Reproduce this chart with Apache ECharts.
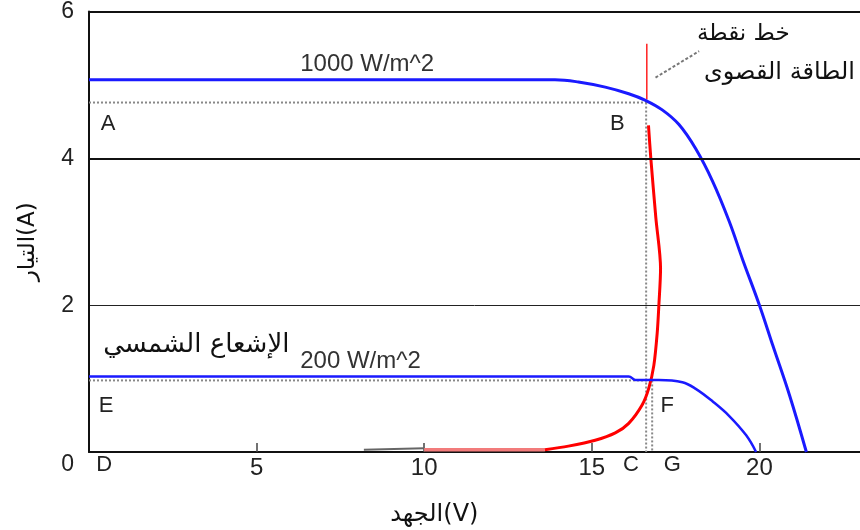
<!DOCTYPE html>
<html><head><meta charset="utf-8">
<script src="https://cdn.jsdelivr.net/npm/echarts@6/dist/echarts.min.js"></script>
<style>html,body{margin:0;padding:0;background:#fff}#c{width:860px;height:530px}</style>
</head><body><div id="c"></div>
<script>
// ---- data ----
const voltage1000 = [0, 13.9, 14.6, 15.4, 16.1, 16.6, 17.1, 17.6, 18.1, 18.6, 19.1, 19.5, 20.0, 20.4, 20.9, 21.4];
const current1000 = [5.07, 5.07, 5.04, 4.97, 4.88, 4.79, 4.66, 4.46, 4.13, 3.69, 3.14, 2.62, 2.0, 1.45, 0.77, 0.0];
const voltage200 = [0, 16.1, 16.3, 17.0, 17.7, 18.1, 18.6, 19.1, 19.6, 19.9];
const current200 = [1.03, 1.03, 0.98, 0.98, 0.95, 0.86, 0.69, 0.49, 0.23, 0];
const mppVoltage = [13.6, 14.3, 15.1, 15.7, 16.1, 16.5, 16.7, 16.85, 16.95, 17.0, 17.05, 16.91, 16.76, 16.69];
const mppCurrent = [0.03, 0.08, 0.16, 0.26, 0.39, 0.64, 0.87, 1.18, 1.62, 2.0, 2.5, 3.19, 4.0, 4.45];
const mppTopVoltage = [16.64, 16.64];
const mppTopCurrent = [4.8, 5.56];
const mppFaintVoltage = [10, 13.6];
const mppFaintCurrent = [0.03, 0.03];
const grayVoltage = [8.2, 10];
const grayCurrent = [0.03, 0.05];
const guideABv = [0, 16.64], guideABi = [4.76, 4.76];
const guideBCv = [16.62, 16.62], guideBCi = [4.76, 0];
const guideEFv = [0, 16.8], guideEFi = [0.975, 0.975];
const guideFGv = [16.8, 16.8], guideFGi = [0.975, 0];
const xTicks = [0, 5, 10, 15, 20];
const yTicks = [0, 2, 4, 6];
const labelHigh = '1000 W/m^2';
const labelLow = '200 W/m^2';
const labelIrr = 'الإشعاع الشمسي';
const labelMpp1 = 'خط نقطة';
const labelMpp2 = 'الطاقة القصوى';
const yName = 'التيار(A)';
const xName = 'الجهد(V)';

const pairs = (a, b) => a.map((v, i) => [v, b[i]]);
const chart = echarts.init(document.getElementById('c'));
const latin = 'Liberation Sans, Arial, sans-serif';
const arab = 'DejaVu Sans, sans-serif';

function line(data, color, width, extra) {
  return Object.assign({ type: 'line', data: data, showSymbol: false, symbol: 'none', silent: true,
    lineStyle: { color: color, width: width }, z: 3 }, extra || {});
}
function dotted(data) {
  return { type: 'line', data: data, showSymbol: false, symbol: 'none', silent: true,
    lineStyle: { color: '#888', width: 2, type: [2, 2] }, z: 2 };
}

chart.setOption({
  animation: false,
  grid: { left: 89, right: -1, top: 9, bottom: 78 },
  xAxis: {
    type: 'value', min: 0, max: 23, interval: 5,
    axisLine: { lineStyle: { color: '#111', width: 2 } },
    axisTick: { inside: true, length: 9, customValues: xTicks.slice(1), lineStyle: { color: '#444', width: 1.5 } },
    splitLine: { show: false },
    axisLabel: { customValues: xTicks.slice(1), formatter: v => String(v), fontSize: 24, color: '#222', margin: 4, fontFamily: latin }
  },
  yAxis: {
    type: 'value', min: 0, max: 6, interval: 2,
    axisLine: { show: true, lineStyle: { color: '#111', width: 2 } },
    axisTick: { show: false },
    splitLine: { show: true, lineStyle: { color: '#222', width: 1 } },
    axisLabel: {
      formatter: v => (v === 0 ? '{z|0}' : (yTicks.indexOf(v) >= 0 ? String(v) : '')),
      fontSize: 23, color: '#222', margin: 15, fontFamily: latin,
      rich: { z: { fontSize: 23, color: '#222', fontFamily: latin, padding: [26, 0, 0, 0] } }
    },
    name: yName, nameLocation: 'middle', nameRotate: 90, nameGap: 49,
    nameTextStyle: { fontSize: 23, color: '#111', fontFamily: arab, padding: [0, 20, 0, 0] }
  },
  series: [
    { type: 'line', data: [], silent: true,
      markLine: { symbol: 'none', silent: true, label: { show: false },
        lineStyle: { color: '#111', width: 2, type: 'solid' },
        data: [{ yAxis: 4 }, { yAxis: 6 }] } },
    dotted(pairs(guideABv, guideABi)),
    dotted(pairs(guideBCv, guideBCi)),
    dotted(pairs(guideEFv, guideEFi)),
    dotted(pairs(guideFGv, guideFGi)),
    line(pairs(grayVoltage, grayCurrent), '#666', 2),
    line(pairs(mppFaintVoltage, mppFaintCurrent), '#f27b7b', 3.5),
    line(pairs(mppVoltage, mppCurrent), '#ff0000', 3, { smooth: 0.3 }),
    line(pairs(mppTopVoltage, mppTopCurrent), '#ff2020', 1.5),
    line(pairs(voltage200, current200), '#1a1aff', 2.5, { smooth: 0.4, z: 4 }),
    line(pairs(voltage1000, current1000), '#1a1aff', 3, { smooth: 0.4, z: 4 })
  ]
});

// annotations placed via data coordinates
const P = (x, y) => chart.convertToPixel({ xAxisIndex: 0, yAxisIndex: 0 }, [x, y]);
function txt(x, y, s, size, align, font, color) {
  const p = P(x, y);
  return { type: 'text', x: p[0], y: p[1], silent: true, z: 10,
    style: { text: s, font: size + 'px ' + font, fill: color || '#222', textAlign: align || 'center', textVerticalAlign: 'middle' } };
}
const a = P(16.9, 5.1), b = P(18.2, 5.46);
chart.setOption({ graphic: [
  txt(0.57, 4.47, 'A', 22, 'center', latin),
  txt(15.76, 4.47, 'B', 22, 'center', latin),
  txt(0.51, 0.63, 'E', 22, 'center', latin),
  txt(17.25, 0.63, 'F', 22, 'center', latin),
  txt(0.45, -0.18, 'D', 22, 'center', latin),
  txt(16.17, -0.18, 'C', 22, 'center', latin),
  txt(17.4, -0.18, 'G', 22, 'center', latin),
  txt(6.3, 5.28, labelHigh, 24, 'left', latin, '#333'),
  txt(6.3, 1.24, labelLow, 24, 'left', latin, '#333'),
  txt(5.98, 1.45, labelIrr, 26, 'right', arab, '#111'),
  txt(20.9, 5.69, labelMpp1, 23, 'right', arab, '#111'),
  txt(22.85, 5.17, labelMpp2, 24, 'right', arab, '#111'),
  txt(10.3, -0.85, xName, 24, 'center', arab, '#111'),
  { type: 'line', silent: true, z: 10, shape: { x1: a[0], y1: a[1], x2: b[0], y2: b[1] },
    style: { stroke: '#777', lineWidth: 2, lineDash: [3, 2] } }
] });
</script></body></html>
